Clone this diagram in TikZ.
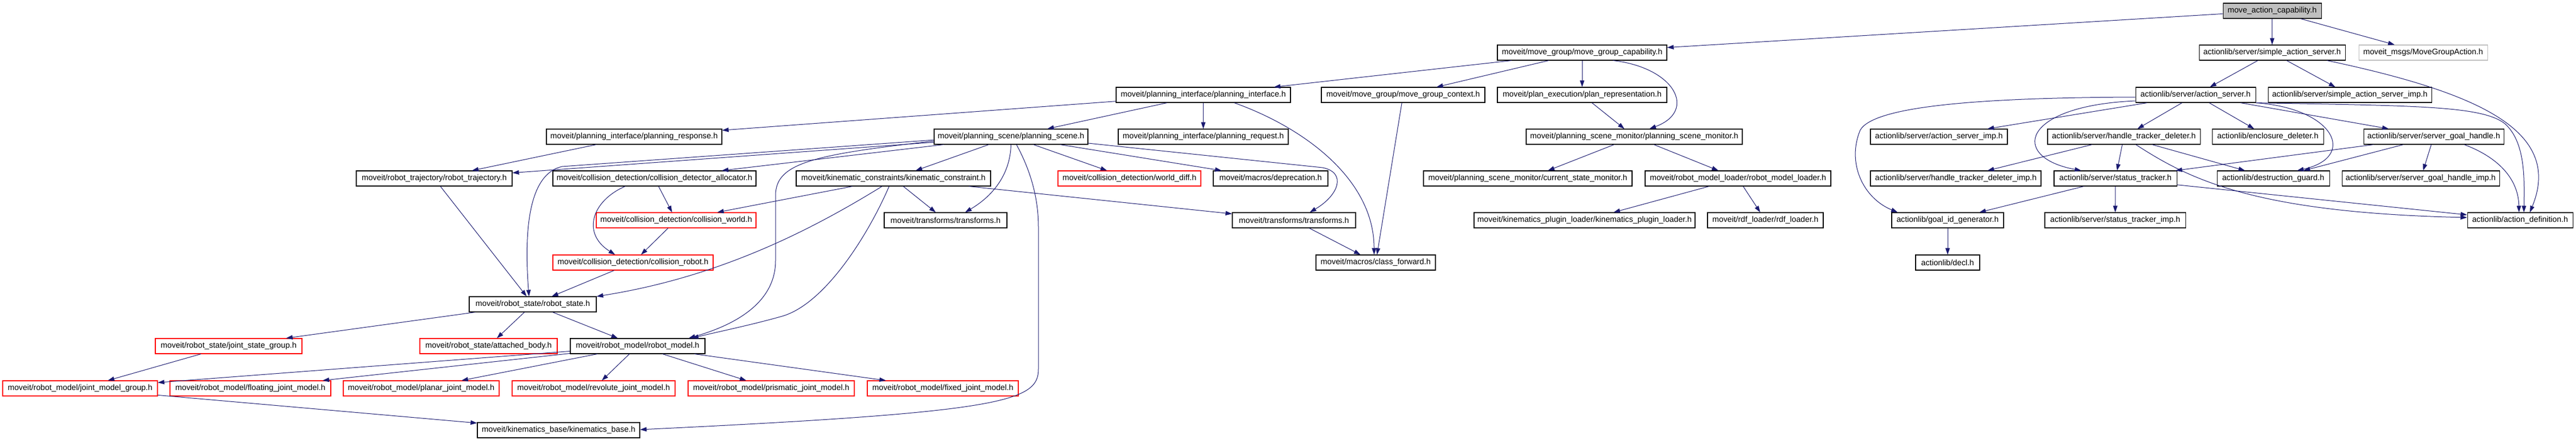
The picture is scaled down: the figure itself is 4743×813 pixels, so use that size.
\documentclass[tikz,border=0pt]{standalone}
\usepackage{fontspec}
\setmainfont{Liberation Sans}
\usetikzlibrary{arrows.meta}

\definecolor{edgeblue}{HTML}{191970}
\definecolor{boxgray}{HTML}{BFBFBF}
\definecolor{boxred}{HTML}{FF0000}

\begin{document}
\begin{tikzpicture}[x=1pt,y=-1pt,
  hfile/.style={rectangle,draw=black,line width=1.1pt,minimum height=28,inner xsep=2pt,inner ysep=0pt,font=\fontsize{14.7}{17}\selectfont},
  hred/.style={hfile,draw=boxred},
  hext/.style={hfile,draw=boxgray},
  hmain/.style={hfile,fill=boxgray},
  inc/.style={draw=edgeblue,line width=1pt,-{Triangle[length=12pt,width=8pt]}}]
\useasboundingbox[fill=white] (0,0) rectangle (4743,813);

\node[hmain,minimum width=181] (mac) at (4183.5,20) {move\_action\_capability.h};

\node[hfile,minimum width=312] (mgcap) at (2913,97) {moveit/move\_group/move\_group\_capability.h};
\node[hfile,minimum width=269] (sas) at (4183.5,97) {actionlib/server/simple\_action\_server.h};
\node[hext,minimum width=237] (mga) at (4461.5,97) {moveit\_msgs/MoveGroupAction.h};

\node[hfile,minimum width=321] (pi) at (2215.5,175) {moveit/planning\_interface/planning\_interface.h};
\node[hfile,minimum width=301] (mgctx) at (2583.5,175) {moveit/move\_group/move\_group\_context.h};
\node[hfile,minimum width=312] (planrep) at (2913,175) {moveit/plan\_execution/plan\_representation.h};
\node[hfile,minimum width=221] (as) at (4042.5,175) {actionlib/server/action\_server.h};
\node[hfile,minimum width=301] (sasimp) at (4326.5,175) {actionlib/server/simple\_action\_server\_imp.h};

\node[hfile,minimum width=323] (presp) at (1167.5,252) {moveit/planning\_interface/planning\_response.h};
\node[hfile,minimum width=283] (ps) at (1861.5,252) {moveit/planning\_scene/planning\_scene.h};
\node[hfile,minimum width=313] (preq) at (2215.5,252) {moveit/planning\_interface/planning\_request.h};
\node[hfile,minimum width=398] (psm) at (3009,252) {moveit/planning\_scene\_monitor/planning\_scene\_monitor.h};
\node[hfile,minimum width=252] (asimp) at (3570,252) {actionlib/server/action\_server\_imp.h};
\node[hfile,minimum width=281] (htd) at (3910.5,252) {actionlib/server/handle\_tracker\_deleter.h};
\node[hfile,minimum width=205] (encl) at (4175.5,252) {actionlib/enclosure\_deleter.h};
\node[hfile,minimum width=258] (sgh) at (4481,252) {actionlib/server/server\_goal\_handle.h};

\node[hfile,minimum width=287] (rtraj) at (799.5,329) {moveit/robot\_trajectory/robot\_trajectory.h};
\node[hfile,minimum width=374] (cda) at (1205,329) {moveit/collision\_detection/collision\_detector\_allocator.h};
\node[hfile,minimum width=358] (kc) at (1645,329) {moveit/kinematic\_constraints/kinematic\_constraint.h};
\node[hred,minimum width=263] (wdiff) at (2079.5,329) {moveit/collision\_detection/world\_diff.h};
\node[hfile,minimum width=211] (depr) at (2339.5,329) {moveit/macros/deprecation.h};
\node[hfile,minimum width=384] (csm) at (2813,329) {moveit/planning\_scene\_monitor/current\_state\_monitor.h};
\node[hfile,minimum width=342] (rml) at (3200,329) {moveit/robot\_model\_loader/robot\_model\_loader.h};
\node[hfile,minimum width=314] (htdimp) at (3601,329) {actionlib/server/handle\_tracker\_deleter\_imp.h};
\node[hfile,minimum width=226] (st) at (3895,329) {actionlib/server/status\_tracker.h};
\node[hfile,minimum width=207] (dg) at (4185.5,329) {actionlib/destruction\_guard.h};
\node[hfile,minimum width=290] (sghimp) at (4457,329) {actionlib/server/server\_goal\_handle\_imp.h};

\node[hred,minimum width=294] (cw) at (1245,406) {moveit/collision\_detection/collision\_world.h};
\node[hfile,minimum width=226] (tfa) at (1741,406) {moveit/transforms/transforms.h};
\node[hfile,minimum width=227] (tfb) at (2382.5,406) {moveit/transforms/transforms.h};
\node[hfile,minimum width=407] (kpl) at (2917.5,406) {moveit/kinematics\_plugin\_loader/kinematics\_plugin\_loader.h};
\node[hfile,minimum width=213] (rdf) at (3250.5,406) {moveit/rdf\_loader/rdf\_loader.h};
\node[hfile,minimum width=206] (gid) at (3586,406) {actionlib/goal\_id\_generator.h};
\node[hfile,minimum width=259] (stimp) at (3894.5,406) {actionlib/server/status\_tracker\_imp.h};
\node[hfile,minimum width=194] (adef) at (4640,406) {actionlib/action\_definition.h};

\node[hred,minimum width=295] (cr) at (1165.5,484) {moveit/collision\_detection/collision\_robot.h};
\node[hfile,minimum width=220] (cf) at (2533,484) {moveit/macros/class\_forward.h};
\node[hfile,minimum width=118] (decl) at (3586,484) {actionlib/decl.h};

\node[hfile,minimum width=234] (rs) at (981,561) {moveit/robot\_state/robot\_state.h};

\node[hred,minimum width=270] (jsg) at (421,638) {moveit/robot\_state/joint\_state\_group.h};
\node[hred,minimum width=253] (ab) at (899.5,638) {moveit/robot\_state/attached\_body.h};
\node[hfile,minimum width=248] (rm) at (1174,638) {moveit/robot\_model/robot\_model.h};

\node[hred,minimum width=285] (jmg) at (147.5,716) {moveit/robot\_model/joint\_model\_group.h};
\node[hred,minimum width=296] (fjm) at (461,716) {moveit/robot\_model/floating\_joint\_model.h};
\node[hred,minimum width=287] (pjm) at (775.5,716) {moveit/robot\_model/planar\_joint\_model.h};
\node[hred,minimum width=300] (rjm) at (1093,716) {moveit/robot\_model/revolute\_joint\_model.h};
\node[hred,minimum width=306] (prjm) at (1420,716) {moveit/robot\_model/prismatic\_joint\_model.h};
\node[hred,minimum width=278] (fxjm) at (1736,716) {moveit/robot\_model/fixed\_joint\_model.h};

\node[hfile,minimum width=299] (kb) at (1028.5,793) {moveit/kinematics\_base/kinematics\_base.h};

\draw[inc] (mac) -- (mgcap);
\draw[inc] (mac) -- (sas);
\draw[inc] (mac) -- (mga);
\draw[inc] (mgcap) -- (pi);
\draw[inc] (mgcap) -- (mgctx);
\draw[inc] (mgcap) -- (planrep);
\draw[inc] ([xshift=57]mgcap.south) .. controls (3085,125) and (3125,205) .. ([xshift=28]psm.north);
\draw[inc] (sas) -- (as);
\draw[inc] (sas) -- (sasimp);
\draw[inc] ([xshift=101]sas.south) .. controls (4560,170) and (4720,240) .. ([xshift=18]adef.north);
\draw[inc] (pi) -- (presp);
\draw[inc] (pi) -- (ps);
\draw[inc] (pi) -- (preq);
\draw[inc] ([xshift=57]pi.south) .. controls (2400,235) and (2530,330) .. ([xshift=-3]cf.north);
\draw[inc] (mgctx) -- (cf);
\draw[inc] (planrep) -- (psm);
\draw[inc] (psm) -- (csm);
\draw[inc] (psm) -- (rml);
\draw[inc] (rml) -- (kpl);
\draw[inc] (rml) -- (rdf);
\draw[inc] (tfb) -- (cf);

\draw[inc] (as) -- (htd);
\draw[inc] (as) -- (encl);
\draw[inc] (as) -- (sgh);
\draw[inc] (as) -- (asimp);
\draw[inc] ([yshift=-11]as.west) .. controls (3720,195) and (3700,290) .. ([xshift=-63]st.north);
\draw[inc] ([yshift=-4]as.west) .. controls (3650,180) and (3450,195) .. (3425,240) .. controls (3400,300) and (3430,365) .. ([xshift=-92]gid.north);
\draw[inc] (as.south east) .. controls (4300,200) and (4340,290) .. ([xshift=44]dg.north);
\draw[inc] (as.south east) .. controls (4450,195) and (4570,195) .. (4612,228) .. controls (4650,262) and (4648,330) .. ([xshift=7]adef.north);
\draw[inc] (htd) -- (htdimp);
\draw[inc] (htd) -- (st);
\draw[inc] (htd) -- (dg);
\draw[inc] ([xshift=22]htd.south) .. controls (4030,330) and (4150,392) .. ([yshift=5]adef.west);
\draw[inc] (st) -- (gid);
\draw[inc] (st) -- (stimp);
\draw[inc] (st) -- (adef);
\draw[inc] (sgh) -- (st);
\draw[inc] (sgh) -- (dg);
\draw[inc] (sgh) -- (sghimp);
\draw[inc] ([xshift=56]sgh.south) .. controls (4600,290) and (4637,330) .. ([xshift=-2]adef.north);
\draw[inc] (gid) -- (decl);

\draw[inc] (presp) -- (rtraj);
\draw[inc] (ps) -- (rtraj);
\draw[inc] (ps) -- (cda);
\draw[inc] (ps) -- (kc);
\draw[inc] (ps) -- (wdiff);
\draw[inc] (ps) -- (depr);
\draw[inc] (ps.south) .. controls (1860,320) and (1830,360) .. ([xshift=36]tfa.north);
\draw[inc] ([yshift=-12]ps.east) -- (2435,309) .. controls (2480,318) and (2465,360) .. ([xshift=29]tfb.north);
\draw[inc] ([yshift=-6]ps.west) -- (1035,307) .. controls (985,318) and (962,390) .. ([xshift=-7]rs.north);
\draw[inc] ([yshift=-8]ps.west) .. controls (1500,285) and (1428,300) .. (1428,360) -- (1428,480) .. controls (1428,560) and (1350,600) .. ([xshift=94]rm.north);
\draw[inc] ([xshift=10]ps.south) .. controls (1895,310) and (1912,360) .. (1912,420) -- (1912,680) .. controls (1912,740) and (1850,760) .. ([yshift=1]kb.east);
\draw[inc] (kc) -- (cw);
\draw[inc] ([xshift=-21]kc.south) .. controls (1500,420) and (1330,510) .. (rs.north east);
\draw[inc] ([xshift=-8]kc.south) .. controls (1600,430) and (1520,560) .. (1440,583) .. controls (1380,600) and (1320,612) .. ([xshift=100]rm.north);
\draw[inc] (kc) -- (tfa);
\draw[inc] (kc) -- (tfb);
\draw[inc] (cda) -- (cw);
\draw[inc] ([xshift=-54]cda.south) .. controls (1090,370) and (1070,430) .. ([xshift=-33]cr.north);
\draw[inc] (cw) -- (cr);
\draw[inc] (cr) -- (rs);
\draw[inc] (rtraj) -- (rs);

\draw[inc] (rs) -- (jsg);
\draw[inc] (rs) -- (ab);
\draw[inc] (rs) -- (rm);
\draw[inc] (jsg) -- (jmg);
\draw[inc] (rm) -- (jmg);
\draw[inc] (rm) -- (fjm);
\draw[inc] (rm) -- (pjm);
\draw[inc] (rm) -- (rjm);
\draw[inc] (rm) -- (prjm);
\draw[inc] (rm) -- (fxjm);
\draw[inc] (jmg) -- (kb);
\end{tikzpicture}
\end{document}
